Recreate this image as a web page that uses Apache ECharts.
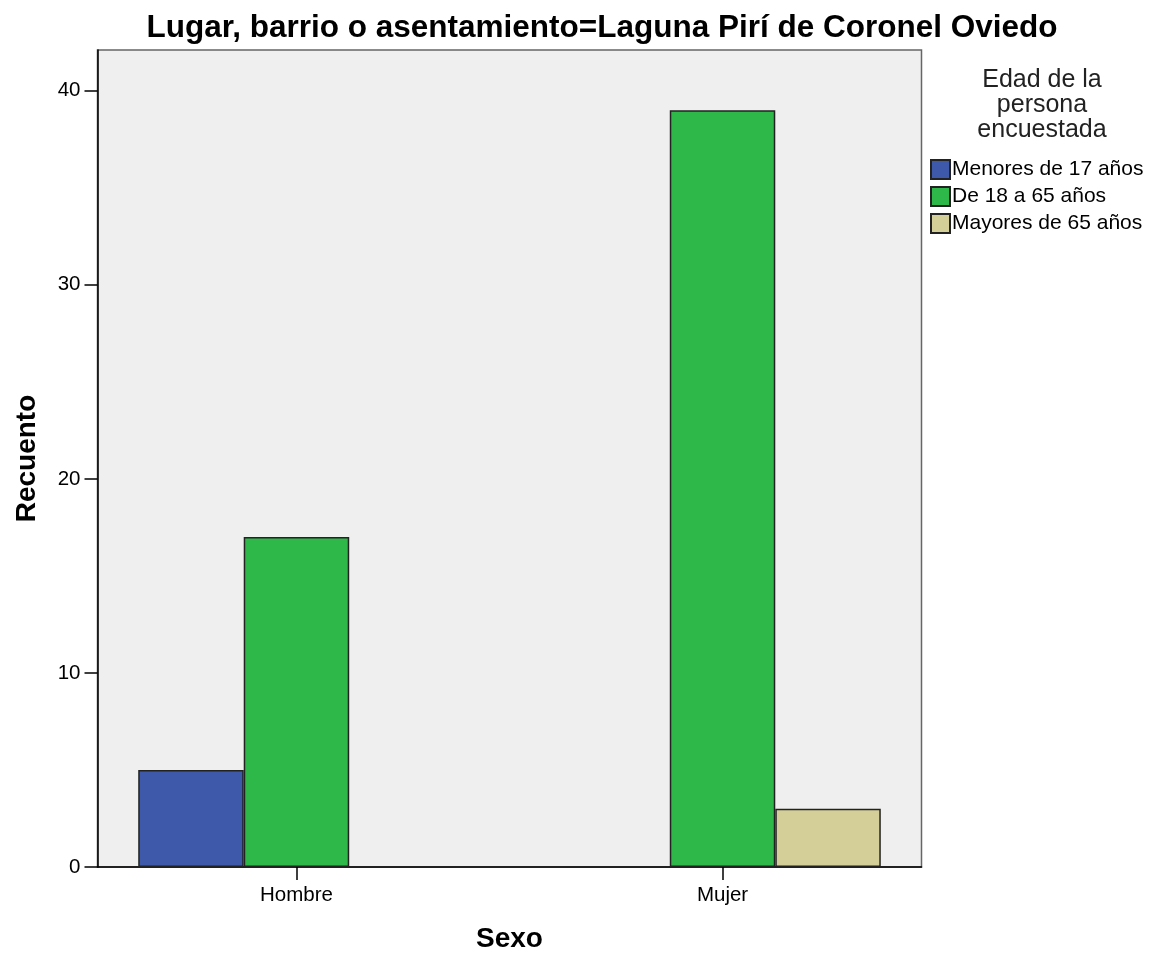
<!DOCTYPE html>
<html>
<head>
<meta charset="utf-8">
<script src="https://cdn.jsdelivr.net/npm/echarts@6/dist/echarts.min.js"></script>
<style>html,body{margin:0;padding:0;background:#fff}#c{width:1168px;height:958px}</style>
</head>
<body>
<div id="c"></div>
<script>
var categories = ['Hombre', 'Mujer'];
var seriesNames = ['Menores de 17 años', 'De 18 a 65 años', 'Mayores de 65 años'];
var menores = [5, 0];
var adultos = [17, 39];
var mayores = [0, 3];
var yTicks = [0, 10, 20, 30, 40];
var colors = ['#3e58aa', '#2fb84a', '#d4cf99'];

var FONT = 'Liberation Sans, Arial, sans-serif';
function toXY(arr) { return arr.map(function (v, i) { return [i, v]; }); }
var values = [menores, adultos, mayores];

var chart = echarts.init(document.getElementById('c'), null, {renderer: 'canvas'});
chart.setOption({
  animation: false,
  textStyle: {fontFamily: FONT},
  title: [
    {text: 'Lugar, barrio o asentamiento=Laguna Pirí de Coronel Oviedo', left: 602, top: 7, textAlign: 'center',
     textStyle: {fontFamily: FONT, fontSize: 31.5, fontWeight: 'bold', color: '#000'}},
    {text: 'Edad de la\npersona\nencuestada', left: 1037, top: 63, textAlign: 'center',
     textStyle: {fontFamily: FONT, fontSize: 25, fontWeight: 'normal', color: '#222', lineHeight: 25}}
  ],
  legend: {
    orient: 'vertical', left: 925, top: 154, itemWidth: 19, itemHeight: 19, itemGap: 6,
    icon: 'rect', data: seriesNames,
    textStyle: {fontFamily: FONT, fontSize: 21, color: '#000', padding: [0, 0, 0, -3]}
  },
  grid: {left: 97.5, top: 50, width: 824, height: 818, show: true, backgroundColor: '#efefef',
         borderColor: '#666', borderWidth: 1.5, containLabel: false},
  xAxis: {
    type: 'value', min: -0.467, max: 1.467, splitLine: {show: false},
    name: 'Sexo', nameLocation: 'middle', nameGap: 58,
    nameTextStyle: {fontFamily: FONT, fontSize: 28, fontWeight: 'bold', color: '#000'},
    axisLine: {show: true, onZero: false, lineStyle: {color: '#000', width: 1.5}},
    axisTick: {show: true, length: 13, customValues: [0, 1], lineStyle: {color: '#000', width: 1.5}},
    axisLabel: {customValues: [0, 1], margin: 18, fontFamily: FONT, fontSize: 20.5, color: '#000',
      formatter: function (v) { return categories[Math.round(v)] || ''; }}
  },
  yAxis: {
    type: 'value', min: 0, max: 42.1, interval: 10, splitLine: {show: false},
    name: 'Recuento', nameLocation: 'middle', nameGap: 56,
    nameTextStyle: {fontFamily: FONT, fontSize: 28, fontWeight: 'bold', color: '#000'},
    axisLine: {show: true, onZero: false, lineStyle: {color: '#000', width: 1.5}},
    axisTick: {show: true, length: 13, customValues: yTicks, lineStyle: {color: '#000', width: 1.5}},
    axisLabel: {customValues: yTicks, margin: 17, fontFamily: FONT, fontSize: 20.5, color: '#000'}
  },
  series: seriesNames.map(function (n, k) {
    return {
      name: n, type: 'bar', barWidth: 105.5, barGap: '0%', data: toXY(values[k]),
      itemStyle: {color: colors[k], borderColor: '#222', borderWidth: 1.5}
    };
  })
});
chart.setOption({title: [{left: 597}, {}]});
</script>
</body>
</html>
